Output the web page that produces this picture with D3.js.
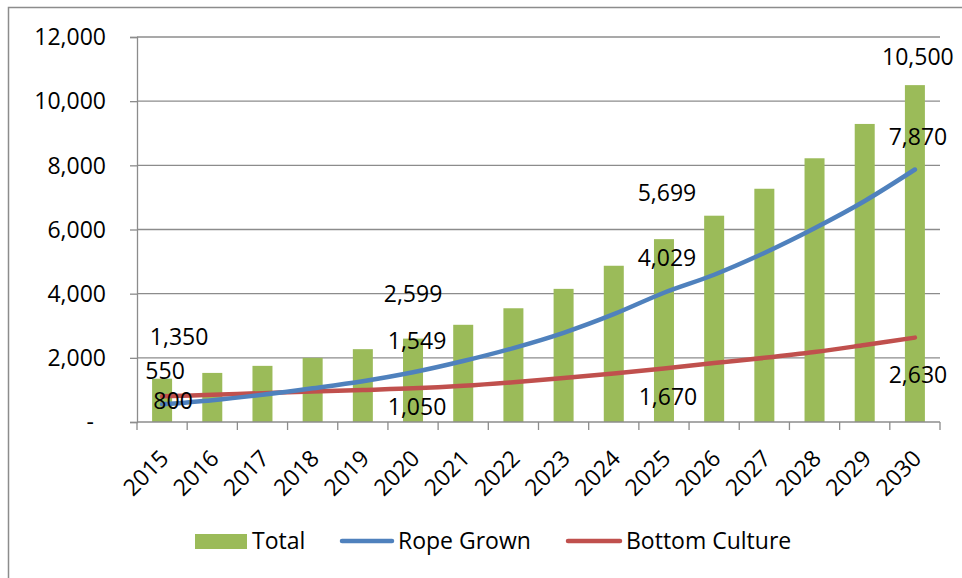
<!DOCTYPE html>
<html>
<head>
<meta charset="utf-8">
<script src="https://cdn.jsdelivr.net/npm/d3@7"></script>
<style>
  html, body { margin: 0; padding: 0; background: #fff; }
  svg { display: block; }
  text { font-family: "Open Sans", "Liberation Sans", sans-serif; fill: #000; }
</style>
</head>
<body>
<svg id="chart" width="962" height="578"></svg>
<script>
// Mussel production forecast, tonnes
const years = ["2015","2016","2017","2018","2019","2020","2021","2022","2023","2024","2025","2026","2027","2028","2029","2030"];
const total = [1350, 1530, 1750, 2000, 2270, 2599, 3030, 3545, 4150, 4870, 5699, 6430, 7270, 8220, 9290, 10500];
const ropeGrown = [550, 680, 850, 1050, 1270, 1549, 1900, 2305, 2780, 3360, 4029, 4590, 5270, 6040, 6890, 7870];
const bottomCulture = [800, 850, 900, 950, 1000, 1050, 1130, 1240, 1370, 1510, 1670, 1840, 2000, 2180, 2400, 2630];
const yTicks = [0, 2000, 4000, 6000, 8000, 10000, 12000];
const labelledYears = ["2015", "2020", "2025", "2030"];

// pixel nudges for the hand-placed value labels, one per labelled year
const totalNudge  = [[17, -42], [0, -45], [3, -46], [3, -28]];
const ropeNudge   = [[3, -34], [4, -32], [3, -35], [3, -33]];
const bottomNudge = [[11, 4], [4, 18], [4, 28], [3, 37]];

const GREEN = "#9BBB59", BLUE = "#4F81BD", RED = "#C0504D", GRID = "#8C8C8C";
const FS = 23;
const svg = d3.select("#chart");

// outer chart frame
svg.append("rect")
  .attr("x", 8.5).attr("y", 7.5).attr("width", 1000).attr("height", 600)
  .attr("fill", "none").attr("stroke", "#8C8C8C").attr("stroke-width", 1.5);

const plot = { left: 137, right: 940, top: 37, bottom: 422 };

const x = d3.scaleBand().domain(years).range([plot.left, plot.right]).padding(0);
const y = d3.scaleLinear().domain([0, 12000]).range([plot.bottom, plot.top]);
const fmt = d3.format(",");

// horizontal gridlines
svg.append("g").selectAll("line").data(yTicks.filter(d => d > 0)).join("line")
  .attr("x1", plot.left).attr("x2", plot.right)
  .attr("y1", d => y(d)).attr("y2", d => y(d))
  .attr("stroke", GRID).attr("stroke-width", 1.3);

// y axis
const yAxis = d3.axisLeft(y).tickValues(yTicks).tickSize(7).tickPadding(24)
  .tickFormat(d => d === 0 ? "-" : fmt(d));
const yg = svg.append("g").attr("transform", `translate(${plot.left},0)`).call(yAxis);
yg.select(".domain").attr("stroke", GRID).attr("stroke-width", 1.3);
yg.selectAll(".tick line").attr("stroke", GRID).attr("stroke-width", 1.3);
yg.selectAll(".tick text").attr("font-size", FS).attr("font-family", "Open Sans").attr("fill", "#000")
  .attr("dy", "0.34em")
  .attr("dx", d => d === 0 ? -12 : 0);

// bars
const barW = 20;
svg.append("g").selectAll("rect").data(years).join("rect")
  .attr("x", (d) => x(d) + x.bandwidth() / 2 - barW / 2)
  .attr("width", barW)
  .attr("y", (d, i) => y(total[i]))
  .attr("height", (d, i) => y(0) - y(total[i]))
  .attr("fill", GREEN);

// x axis with boundary ticks
svg.append("line")
  .attr("x1", plot.left).attr("x2", plot.right)
  .attr("y1", plot.bottom).attr("y2", plot.bottom)
  .attr("stroke", GRID).attr("stroke-width", 1.3);
const bounds = years.map(d => x(d)).concat([plot.right]);
svg.append("g").selectAll("line").data(bounds).join("line")
  .attr("x1", d => d).attr("x2", d => d)
  .attr("y1", plot.bottom).attr("y2", plot.bottom + 8)
  .attr("stroke", GRID).attr("stroke-width", 1.3);
svg.append("g").selectAll("text").data(years).join("text")
  .attr("transform", d => `translate(${x(d) + x.bandwidth() / 2 + 8},${plot.bottom + 38}) rotate(-45)`)
  .attr("text-anchor", "end")
  .attr("font-size", 23)
  .text(d => d);

// smoothed series lines
const line = d3.line()
  .x((d, i) => x(years[i]) + x.bandwidth() / 2)
  .y(d => y(d))
  .curve(d3.curveCatmullRom.alpha(0.5));

svg.append("path").datum(bottomCulture).attr("d", line)
  .attr("fill", "none").attr("stroke", RED).attr("stroke-width", 4.5).attr("stroke-linecap", "round");
svg.append("path").datum(ropeGrown).attr("d", line)
  .attr("fill", "none").attr("stroke", BLUE).attr("stroke-width", 4.5).attr("stroke-linecap", "round");

// value labels
function addLabels(values, nudges) {
  labelledYears.forEach((yr, k) => {
    const i = years.indexOf(yr);
    svg.append("text")
      .attr("x", x(yr) + x.bandwidth() / 2 + nudges[k][0])
      .attr("y", y(values[i]) + nudges[k][1])
      .attr("dy", "0.36em")
      .attr("text-anchor", "middle")
      .attr("font-size", FS)
      .text(fmt(values[i]));
  });
}
addLabels(total, totalNudge);
addLabels(ropeGrown, ropeNudge);
addLabels(bottomCulture, bottomNudge);

// legend
const lg = svg.append("g");
lg.append("rect").attr("x", 195).attr("y", 534).attr("width", 52).attr("height", 15).attr("fill", GREEN);
lg.append("text").attr("x", 252).attr("y", 549).attr("font-size", FS).text("Total");
lg.append("line").attr("x1", 342).attr("x2", 392).attr("y1", 541).attr("y2", 541)
  .attr("stroke", BLUE).attr("stroke-width", 4.5).attr("stroke-linecap", "round");
lg.append("text").attr("x", 398).attr("y", 549).attr("font-size", FS).text("Rope Grown");
lg.append("line").attr("x1", 568).attr("x2", 620).attr("y1", 541).attr("y2", 541)
  .attr("stroke", RED).attr("stroke-width", 4.5).attr("stroke-linecap", "round");
lg.append("text").attr("x", 626).attr("y", 549).attr("font-size", FS).text("Bottom Culture");
</script>
</body>
</html>
